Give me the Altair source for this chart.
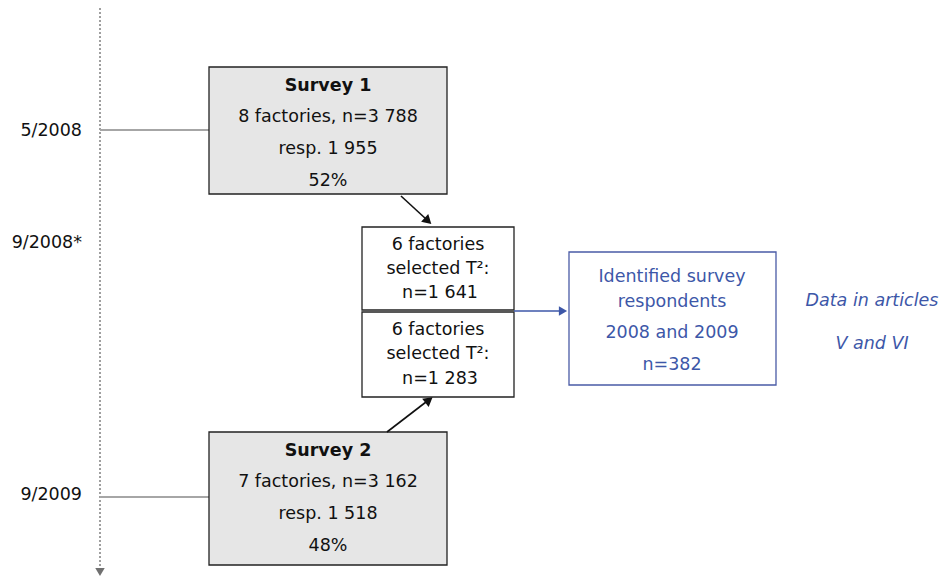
import altair as alt
import pandas as pd

FONT = "DejaVu Sans"
FS = 17.5

# Boxes (reference pixel frame)
box_names = ["Survey 1", "Selected 2008", "Selected 2009", "Survey 2", "Identified"]
box_x1 = [209, 362, 362, 209, 569]
box_x2 = [447, 514, 514, 447, 776]
box_y1 = [67, 227, 312, 432, 252]
box_y2 = [194, 310, 397, 565, 385]
box_fill = ["#e6e6e6", "#ffffff", "#ffffff", "#e6e6e6", "#ffffff"]
box_stroke = ["#222222", "#222222", "#222222", "#222222", "#4a5ba6"]

# Texts
text_labels = ["Survey 1", "8 factories, n=3 788", "resp. 1 955", "52%",
               "6 factories", "selected T²:", "n=1 641",
               "6 factories", "selected T²:", "n=1 283",
               "Survey 2", "7 factories, n=3 162", "resp. 1 518", "48%",
               "Identified survey", "respondents", "2008 and 2009", "n=382"]
text_x = [328, 328, 328, 328,
          438, 438, 440,
          438, 438, 440,
          328, 328, 328, 328,
          672, 672, 672, 672]
text_y = [86, 117, 149, 181,
          245, 269, 293,
          330, 354, 379,
          451, 482, 514, 546,
          277, 302, 333, 365]
text_weight = ["bold", "normal", "normal", "normal",
               "normal", "normal", "normal",
               "normal", "normal", "normal",
               "bold", "normal", "normal", "normal",
               "normal", "normal", "normal", "normal"]
text_color = ["#111111"] * 14 + ["#3d57a8"] * 4

date_labels = ["5/2008", "9/2008*", "9/2009"]
date_x = [82, 82, 82]
date_y = [131, 243, 495]

italic_labels = ["Data in articles", "V and VI"]
italic_x = [872, 872]
italic_y = [301, 344]

# Connector lines
gray_x1 = [100, 100]
gray_x2 = [209, 209]
gray_y = [130, 497]

arrow_x1 = [401, 387]
arrow_y1 = [196, 432]
arrow_x2 = [426, 426]
arrow_y2 = [219, 402]

blue_x1 = [514]
blue_y1 = [311]
blue_x2 = [560]
blue_y2 = [311]

# Arrow heads
head_x = [428, 429, 563, 100]
head_y = [221, 400, 311, 572]
head_angle = [133, 52, 90, 180]
head_color = ["#111111", "#111111", "#3d57a8", "#707070"]
head_size = [110, 110, 90, 90]

XS = alt.Scale(domain=[8, 941])
YS = alt.Scale(domain=[8, 578], reverse=True)

def X(f):
    return alt.X(f, type="quantitative", scale=XS, axis=None)

def Y(f):
    return alt.Y(f, type="quantitative", scale=YS, axis=None)

boxes = pd.DataFrame(dict(name=box_names, x1=box_x1, x2=box_x2, y1=box_y1, y2=box_y2,
                          fill=box_fill, stroke=box_stroke))
texts = pd.DataFrame(dict(label=text_labels, x=text_x, y=text_y, w=text_weight, c=text_color))
dates = pd.DataFrame(dict(label=date_labels, x=date_x, y=date_y))
italics = pd.DataFrame(dict(label=italic_labels, x=italic_x, y=italic_y))
grays = pd.DataFrame(dict(x1=gray_x1, x2=gray_x2, y=gray_y))
arrows = pd.DataFrame(dict(x1=arrow_x1, y1=arrow_y1, x2=arrow_x2, y2=arrow_y2))
blues = pd.DataFrame(dict(x1=blue_x1, y1=blue_y1, x2=blue_x2, y2=blue_y2))
heads = pd.DataFrame(dict(x=head_x, y=head_y, a=head_angle, c=head_color, s=head_size))
timeline = pd.DataFrame(dict(x=[100], y1=[8], y2=[567]))

timeline_l = alt.Chart(timeline).mark_rule(color="#808080", strokeWidth=1.5, strokeDash=[2, 2]).encode(
    x=X("x"), y=Y("y1"), y2="y2")

gray_l = alt.Chart(grays).mark_rule(color="#a6a6a6", strokeWidth=2.2).encode(
    x=X("x1"), x2="x2", y=Y("y"))

box_l = alt.Chart(boxes).mark_rect(strokeWidth=1.3).encode(
    x=X("x1"), x2="x2", y=Y("y1"), y2="y2",
    fill=alt.Fill("fill:N", scale=None), stroke=alt.Stroke("stroke:N", scale=None))

arrow_l = alt.Chart(arrows).mark_rule(color="#111111", strokeWidth=1.6).encode(
    x=X("x1"), y=Y("y1"), x2="x2", y2="y2")

blue_l = alt.Chart(blues).mark_rule(color="#3d57a8", strokeWidth=1.3).encode(
    x=X("x1"), y=Y("y1"), x2="x2", y2="y2")

head_l = alt.Chart(heads).mark_point(shape="triangle-up", filled=True, opacity=1).encode(
    x=X("x"), y=Y("y"), angle=alt.Angle("a:Q", scale=None),
    size=alt.Size("s:Q", scale=None),
    color=alt.Color("c:N", scale=None))

text_normal = alt.Chart(texts).transform_filter("datum.w == 'normal'").mark_text(
    font=FONT, fontSize=FS, align="center", baseline="middle").encode(
    x=X("x"), y=Y("y"), text="label:N", color=alt.Color("c:N", scale=None))

text_bold = alt.Chart(texts).transform_filter("datum.w == 'bold'").mark_text(
    font=FONT, fontSize=FS, fontWeight="bold", align="center", baseline="middle").encode(
    x=X("x"), y=Y("y"), text="label:N", color=alt.Color("c:N", scale=None))

date_l = alt.Chart(dates).mark_text(font=FONT, fontSize=FS, align="right", baseline="middle",
                                    color="#111111").encode(
    x=X("x"), y=Y("y"), text="label:N")

italic_l = alt.Chart(italics).mark_text(font=FONT, fontSize=FS, fontStyle="italic", align="center",
                                        baseline="middle", color="#3d57a8").encode(
    x=X("x"), y=Y("y"), text="label:N")

chart = alt.layer(timeline_l, gray_l, box_l, arrow_l, blue_l, head_l,
                  text_normal, text_bold, date_l, italic_l).properties(
    width=933, height=570, padding=0, autosize=alt.AutoSizeParams(type="none"),
    background="#ffffff"
).configure_view(stroke=None)

chart.save("out.html", embed_options={"renderer": "svg", "actions": False})
